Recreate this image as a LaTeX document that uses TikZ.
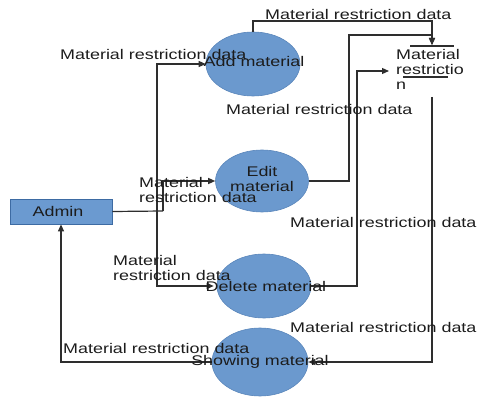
\documentclass[tikz,border=0pt]{standalone}
\usepackage{fontspec}
\setmainfont{Liberation Sans}[FakeStretch=1.28]
\usetikzlibrary{shapes.geometric,arrows.meta}

\definecolor{procfill}{HTML}{6B99CE}
\definecolor{procedge}{HTML}{5A86BB}
\definecolor{entfill}{HTML}{6B9AD0}
\definecolor{entedge}{HTML}{3D6BA3}
\definecolor{flowc}{HTML}{2E2E2E}
\definecolor{txt}{HTML}{1C1C1C}

\begin{document}
\begin{tikzpicture}[x=1pt,y=-1pt,
  proc/.style={ellipse, draw=procedge, fill=procfill, line width=0.6pt, inner sep=0pt},
  entity/.style={rectangle, draw=entedge, fill=entfill, line width=0.8pt, minimum width=102pt, minimum height=25pt, inner sep=0pt},
  ptext/.style={font=\fontsize{14}{15}\selectfont, text=txt, inner sep=0pt, align=center},
  lbl/.style={font=\fontsize{14}{15}\selectfont, text=txt, inner sep=0pt, anchor=base west, align=left},
  flow/.style={draw=flowc, line width=1.2pt, -{Triangle[length=7pt,width=6pt]}},
  plain/.style={draw=flowc, line width=1.2pt},
  storeline/.style={draw=flowc, line width=1.1pt}]

\useasboundingbox (0,0) rectangle (479,398);

% external entity
\node[entity] (admin) at (61,211.5) {};
\node[ptext, anchor=base] (admintxt) at (58,216) {Admin};

% processes
\node[proc, minimum width=94pt, minimum height=64pt] (addm) at (253,64) {};
\node[proc, minimum width=93pt, minimum height=62pt] (editm) at (262,181) {};
\node[proc, minimum width=94pt, minimum height=64pt] (delm) at (264,286) {};
\node[proc, minimum width=96pt, minimum height=68pt] (showm) at (260,362) {};

% data store (multi-line nodes sit on the baseline of their last line)
\coordinate (stl) at (410,46);
\coordinate (str) at (454,46);
\coordinate (sbl) at (403,77);
\coordinate (sbr) at (448,77);
\draw[storeline] (stl) -- (str);
\node[lbl] (store) at (396,90) {Material\\restrictio\\n};
\draw[storeline] (sbl) -- (sbr);

% bend points
\coordinate (storetop) at (432,45);
\coordinate (topbend) at (432,21);
\coordinate (eb1) at (349,35);
\coordinate (eb2) at (432,35);
\coordinate (db1) at (357,71);
\coordinate (storein) at (389,71);
\coordinate (storeout) at (432,97);
\coordinate (trunk) at (157,211);
\coordinate (trunk2) at (163,211);

% data flows
\draw[flow] (addm.north) |- (topbend) -- (storetop);
\draw[flow] (editm.east) -| (eb1) -- (eb2) -- (storetop);
\draw[flow] (delm.east) -| (db1) -- (storein);
\draw[flow] (storeout) |- (showm.east);
\draw[flow] (showm.west) -| (admin.south);
\draw[plain] (admin.east) -- (trunk2);
\draw[flow] (trunk) |- (addm.west);
\draw[flow] (trunk2) |- (editm.west);
\draw[flow, shorten >=3pt] (trunk) |- (delm.west);

% process names
\node[ptext, anchor=base] (addtxt) at (254,67) {Add material};
\node[ptext, anchor=base] (edittxt) at (262,192) {Edit\\material};
\node[ptext, anchor=base] (deltxt) at (266,291) {Delete material};
\node[ptext, anchor=base] (showtxt) at (260,365) {Showing material};

% flow labels
\node[lbl] (l1) at (265,20) {Material restriction data};
\node[lbl] (l2) at (60,60) {Material restriction data};
\node[lbl] (l3) at (226,115) {Material restriction data};
\node[lbl] (l4) at (139,203) {Material\\restriction data};
\node[lbl] (l5) at (290,227) {Material restriction data};
\node[lbl] (l6) at (113,280) {Material\\restriction data};
\node[lbl] (l7) at (290,332) {Material restriction data};
\node[lbl] (l8) at (63,353) {Material restriction data};
\end{tikzpicture}
\end{document}
